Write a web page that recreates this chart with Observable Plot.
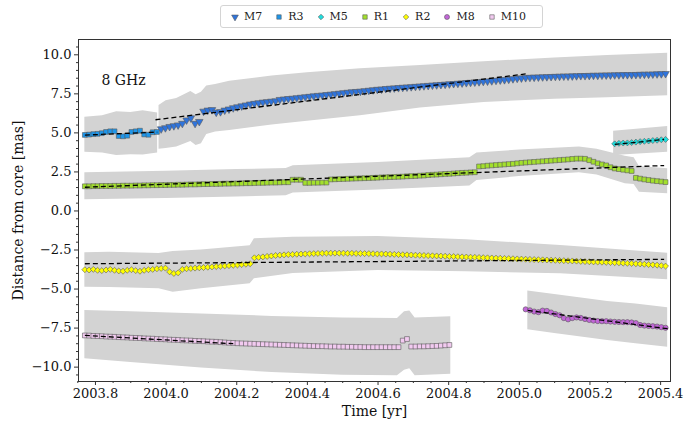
<!DOCTYPE html>
<html><head><meta charset="utf-8">
<script src="https://cdn.jsdelivr.net/npm/d3@7"></script>
<script src="https://cdn.jsdelivr.net/npm/@observablehq/plot@0.6"></script>
<style>
body{margin:0;background:#fff;font-family:"DejaVu Serif",serif;}
#wrap{position:relative;width:688px;height:421px;}
#legend{position:absolute;left:220px;top:5px;height:23px;box-sizing:border-box;border:1px solid #d4d4d4;border-radius:3px;display:flex;align-items:center;padding:0 4px 0 9px;font-family:"DejaVu Serif",serif;font-size:11px;color:#222;background:#fff;}
.item{display:flex;align-items:center;margin-right:12px;}
.item svg{margin-right:4px;}
#chart{position:absolute;left:0;top:33px;}
#chart svg, #chart text{font-family:"DejaVu Serif",serif;}
</style></head>
<body><div id="wrap"><div id="legend"></div><div id="chart"></div></div>
<script>
// observation epochs [yr]
const epochs = [2003.770,2003.782,2003.794,2003.806,2003.818,2003.830,2003.842,2003.854,2003.866,2003.878,2003.890,2003.902,2003.914,2003.926,2003.938,2003.950,2003.962,2003.974,2003.986,2003.998,
2004.010,2004.022,2004.034,2004.046,2004.058,2004.070,2004.082,2004.094,2004.106,2004.118,2004.130,2004.142,2004.154,2004.166,2004.178,2004.190,2004.202,2004.214,2004.226,2004.238,2004.250,2004.262,2004.274,2004.286,2004.298,2004.310,2004.322,2004.334,2004.346,2004.358,2004.370,2004.382,2004.394,2004.406,2004.418,2004.430,2004.442,2004.454,2004.466,2004.478,2004.490,2004.502,2004.514,2004.526,2004.538,2004.550,2004.562,2004.574,2004.586,2004.598,2004.610,2004.622,2004.634,2004.646,2004.658,2004.670,2004.682,2004.694,2004.706,2004.718,2004.730,2004.742,2004.754,2004.766,2004.778,2004.790,2004.802,2004.814,2004.826,2004.838,2004.850,2004.862,2004.874,2004.886,2004.898,2004.910,2004.922,2004.934,2004.946,2004.958,2004.970,2004.982,2004.994,
2005.006,2005.018,2005.030,2005.042,2005.054,2005.066,2005.078,2005.090,2005.102,2005.114,2005.126,2005.138,2005.150,2005.162,2005.174,2005.186,2005.198,2005.210,2005.222,2005.234,2005.246,2005.258,2005.270,2005.282,2005.294,2005.306,2005.318,2005.330,2005.342,2005.354,2005.366,2005.378,2005.390,2005.402,2005.414];

// component distances [mas]; each list starts at the given first epoch
const R3 = [4.87,4.89,4.92,4.94,4.98,5.06,5.1,5.1,4.8,4.78,4.82,5.06,5.1,5.14,4.9,4.88,5.04,5.06];
const R3_first = 2003.770;
const M7 = [5.25,5.32,5.4,5.45,5.5,5.6,5.82,5.95,5.6,5.72,6.38,6.45,6.48,6.32,6.35,6.45,6.52,6.6,6.66,6.72,
6.78,6.84,6.88,6.92,6.96,6.99,7.02,7.04,7.13,7.16,7.19,7.21,7.24,7.27,7.3,7.33,7.36,7.39,7.41,7.44,
7.47,7.5,7.53,7.56,7.59,7.62,7.64,7.66,7.69,7.72,7.75,7.78,7.8,7.83,7.85,7.87,7.89,7.91,7.93,7.95,
7.97,7.99,8.01,8.03,8.05,8.07,8.09,8.11,8.13,8.15,8.17,8.19,8.21,8.23,8.25,8.27,8.29,8.31,8.33,8.36,
8.38,8.4,8.43,8.46,8.49,8.51,8.53,8.55,8.56,8.57,8.58,8.59,8.6,8.61,8.62,8.63,8.63,8.64,8.65,8.66,
8.66,8.67,8.68,8.68,8.69,8.7,8.7,8.71,8.71,8.72,8.72,8.72,8.73,8.74,8.75,8.75,8.76,8.77,8.78,8.79];
const M7_first = 2003.986;
const M5 = [4.3,4.33,4.35,4.36,4.38,4.41,4.44,4.46,4.48,4.51,4.53,4.56,4.58];
const M5_first = 2005.270;
const R1 = [1.58,1.58,1.59,1.59,1.6,1.6,1.6,1.61,1.61,1.62,1.62,1.62,1.63,1.63,1.64,1.64,1.65,1.65,
1.66,1.66,1.67,1.67,1.68,1.68,1.69,1.7,1.7,1.71,1.72,1.72,1.73,1.73,1.74,1.75,1.75,1.76,1.76,1.77,1.78,1.78,1.79,1.8,1.8,1.81,1.82,1.82,1.83,1.84,1.84,
2.0,2.0,2.0,1.8,1.8,1.81,1.81,1.82,1.82,
2.02,2.03,2.04,2.05,2.06,2.07,2.08,2.09,2.1,2.11,2.12,2.13,2.15,2.16,2.17,2.18,2.19,2.2,2.22,2.23,2.24,2.26,2.27,2.3,2.32,2.33,2.35,2.37,2.38,2.4,2.42,2.44,2.45,2.47,2.48,
2.85,2.87,2.9,2.92,2.94,2.96,2.98,3.0,3.02,3.05,3.08,3.1,3.12,3.14,3.16,3.18,3.2,3.22,3.24,3.26,3.28,3.3,3.33,3.35,3.35,3.34,
3.25,3.15,3.05,2.98,2.92,2.8,2.72,2.68,2.64,2.6,2.56,2.12,2.07,2.02,1.98,1.94,1.91,1.88,1.85];
const R1_first = 2003.770;
const R2 = [-3.76,-3.78,-3.74,-3.8,-3.82,-3.78,-3.74,-3.8,-3.84,-3.86,-3.8,-3.76,-3.82,-3.86,-3.8,-3.76,-3.74,-3.7,-3.68,-3.66,
-3.9,-4.0,-3.96,-3.74,-3.7,-3.68,-3.66,-3.64,-3.62,-3.6,-3.58,-3.56,-3.54,-3.52,-3.5,-3.48,-3.46,-3.43,-3.41,-3.38,
-3.0,-2.97,-2.94,-2.91,-2.88,-2.85,-2.83,-2.81,-2.79,-2.78,-2.77,-2.76,-2.75,-2.74,-2.73,-2.72,-2.71,-2.7,-2.7,-2.7,
-2.7,-2.7,-2.71,-2.71,-2.72,-2.72,-2.73,-2.73,-2.74,-2.75,-2.75,-2.76,-2.77,-2.78,-2.79,-2.8,-2.81,-2.82,-2.83,-2.84,
-2.85,-2.86,-2.87,-2.88,-2.89,-2.9,-2.91,-2.92,-2.93,-2.94,-2.95,-2.96,-2.97,-2.98,-2.99,-3.0,-3.01,-3.02,-3.03,-3.04,
-3.05,-3.06,-3.07,-3.08,-3.09,-3.1,-3.11,-3.12,-3.13,-3.14,-3.15,-3.16,-3.17,-3.18,-3.19,-3.2,-3.21,-3.23,-3.24,-3.25,
-3.26,-3.27,-3.28,-3.29,-3.3,-3.31,-3.32,-3.34,-3.35,-3.36,-3.38,-3.39,-3.41,-3.43,-3.45,-3.47,-3.5,-3.53];
const R2_first = 2003.770;
const M8 = [-6.3,-6.36,-6.44,-6.48,-6.38,-6.4,-6.5,-6.6,-6.68,-6.86,-6.94,-6.86,-6.82,-6.85,-6.92,-6.98,-7.02,
-7.05,-7.06,-7.06,-7.08,-7.1,-7.11,-7.12,-7.12,-7.14,-7.18,-7.3,-7.34,-7.36,-7.38,-7.4,-7.44,-7.48];
const M8_first = 2005.018;
const M10 = [-7.97,-7.98,-8.0,-8.01,-8.02,-8.04,-8.05,-8.06,-8.08,-8.09,-8.1,-8.12,-8.13,-8.14,-8.16,-8.17,-8.18,-8.2,-8.21,-8.22,
-8.24,-8.25,-8.26,-8.28,-8.29,-8.3,-8.32,-8.33,-8.34,-8.36,-8.37,-8.38,-8.4,-8.42,-8.44,-8.45,-8.47,-8.48,-8.49,-8.5,
-8.51,-8.52,-8.53,-8.54,-8.55,-8.56,-8.57,-8.58,-8.59,-8.6,-8.61,-8.62,-8.63,-8.64,-8.65,-8.66,-8.66,-8.67,-8.68,-8.68,
-8.69,-8.69,-8.7,-8.7,-8.71,-8.71,-8.72,-8.72,-8.72,-8.72,-8.72,-8.72,-8.72,-8.72,-8.72,-8.3,-8.2,-8.68,-8.68,-8.67,
-8.67,-8.66,-8.65,-8.64,-8.62,-8.6,-8.58];
const M10_first = 2003.770;

// uncertainty envelopes (sampled edges)
const bandR3_t  = [2003.770, 2003.820, 2003.860, 2003.900, 2003.935, 2003.976];
const bandR3_lo = [3.76, 3.72, 3.55, 3.6, 3.58, 3.72];
const bandR3_hi = [6.0, 6.1, 6.35, 6.3, 6.42, 6.28];
const bandM7_t  = [2003.980, 2004.000, 2004.030, 2004.070, 2004.085, 2004.100, 2004.115, 2004.140, 2004.180, 2004.300, 2004.400, 2004.550, 2004.720, 2004.900, 2005.100, 2005.250, 2005.420];
const bandM7_lo = [3.95, 4.0, 4.1, 4.45, 4.2, 4.3, 4.9, 5.05, 5.15, 5.5, 5.75, 6.1, 6.6, 6.95, 7.15, 7.25, 7.38];
const bandM7_hi = [6.75, 7.05, 7.2, 7.65, 7.45, 7.6, 8.0, 8.1, 8.3, 8.65, 8.85, 9.1, 9.31, 9.55, 9.8, 9.95, 10.1];
const bandM5_t  = [2005.267, 2005.420];
const bandM5_lo = [3.55, 3.76];
const bandM5_hi = [5.11, 5.41];
const bandR1_t  = [2003.770, 2004.000, 2004.200, 2004.340, 2004.360, 2004.600, 2004.860, 2004.880, 2005.000, 2005.170, 2005.220, 2005.300, 2005.325, 2005.340, 2005.420];
const bandR1_lo = [0.72, 0.8, 0.9, 0.98, 1.15, 1.35, 1.6, 1.95, 2.2, 2.45, 2.3, 1.75, 1.7, 1.2, 1.1];
const bandR1_hi = [2.45, 2.55, 2.65, 2.72, 2.9, 3.1, 3.4, 3.72, 3.9, 4.1, 3.95, 3.5, 3.4, 2.85, 2.7];
const bandR2_t  = [2003.770, 2003.840, 2003.980, 2004.020, 2004.100, 2004.238, 2004.250, 2004.360, 2004.600, 2004.850, 2005.117, 2005.420];
const bandR2_lo = [-4.88, -4.9, -4.98, -5.2, -4.98, -4.66, -4.34, -4.0, -3.81, -3.9, -4.02, -4.4];
const bandR2_hi = [-2.68, -2.64, -2.72, -2.6, -2.5, -2.22, -1.78, -1.68, -1.63, -1.85, -2.21, -2.7];
const bandM8_t  = [2005.024, 2005.100, 2005.170, 2005.250, 2005.330, 2005.420];
const bandM8_lo = [-7.61, -7.85, -8.05, -8.3, -8.5, -8.72];
const bandM8_hi = [-5.13, -5.35, -5.56, -5.8, -5.95, -6.2];
const bandM10_t  = [2003.770, 2003.900, 2004.100, 2004.300, 2004.500, 2004.655, 2004.675, 2004.690, 2004.705, 2004.806];
const bandM10_lo = [-9.46, -9.7, -10.05, -10.35, -10.52, -10.55, -10.2, -10.1, -10.55, -10.45];
const bandM10_hi = [-6.37, -6.45, -6.6, -6.75, -6.85, -6.88, -6.45, -6.4, -6.85, -6.78];

// linear fits (dashed)
const fitStart    = [2003.770, 2003.970, 2005.270, 2003.770, 2003.770, 2005.024, 2003.770];
const fitEnd      = [2003.975, 2005.020, 2005.410, 2005.410, 2005.410, 2005.420, 2004.190];
const fitStartVal = [4.86, 5.84, 4.26, 1.52, -3.38, -6.37, -7.97];
const fitEndVal   = [5.05, 8.78, 4.58, 2.91, -3.10, -7.54, -8.50];

// axis ticks
const xMajor = [2003.8, 2004.0, 2004.2, 2004.4, 2004.6, 2004.8, 2005.0, 2005.2, 2005.4];
const xMinor = [2003.75, 2003.85, 2003.9, 2003.95, 2004.05, 2004.1, 2004.15, 2004.25, 2004.3, 2004.35, 2004.45, 2004.5, 2004.55, 2004.65, 2004.7, 2004.75, 2004.85, 2004.9, 2004.95, 2005.05, 2005.1, 2005.15, 2005.25, 2005.3, 2005.35];
const yMajor = [-10, -7.5, -5, -2.5, 0, 2.5, 5, 7.5, 10];
const yMinor = [-10.5, -9.5, -9, -8.5, -8, -7, -6.5, -6, -5.5, -4.5, -4, -3.5, -3, -2, -1.5, -1, -0.5, 0.5, 1, 1.5, 2, 3, 3.5, 4, 4.5, 5.5, 6, 6.5, 7, 8, 8.5, 9, 9.5, 10.5];

// custom downward triangle (matplotlib "v")
const sqrt3 = Math.sqrt(3);
const triangleDown = {draw(ctx, size) {
  const y = -Math.sqrt(size / (sqrt3 * 3));
  ctx.moveTo(0, -y * 2);
  ctx.lineTo(-sqrt3 * y, y);
  ctx.lineTo(sqrt3 * y, y);
  ctx.closePath();
}};

const styles = {
  M7:  {fill: "#2f74dc", symbol: triangleDown, r: 2.8},
  R3:  {fill: "#1e96ea", symbol: d3.symbolSquare, r: 2.7},
  M5:  {fill: "#1fdede", symbol: d3.symbolDiamond2, r: 2.7},
  R1:  {fill: "#a3e02c", symbol: d3.symbolSquare, r: 2.7},
  R2:  {fill: "#ffff00", symbol: d3.symbolDiamond2, r: 2.7},
  M8:  {fill: "#c266d8", symbol: d3.symbolCircle, r: 2.6},
  M10: {fill: "#f2caf0", symbol: d3.symbolSquare, r: 2.7}
};

function rows(vals, first) {
  const i0 = epochs.findIndex(e => Math.abs(e - first) < 1e-6);
  return vals.map((v, i) => ({t: epochs[i0 + i], v}));
}
const seriesData = {
  M10: rows(M10, M10_first), M8: rows(M8, M8_first), R2: rows(R2, R2_first),
  R1: rows(R1, R1_first), M5: rows(M5, M5_first), R3: rows(R3, R3_first), M7: rows(M7, M7_first)
};

function bandRows(id, t, lo, hi) { return t.map((d, i) => ({id, t: d, lo: lo[i], hi: hi[i]})); }
const bands = [].concat(
  bandRows("R3", bandR3_t, bandR3_lo, bandR3_hi),
  bandRows("M7", bandM7_t, bandM7_lo, bandM7_hi),
  bandRows("M5", bandM5_t, bandM5_lo, bandM5_hi),
  bandRows("R1", bandR1_t, bandR1_lo, bandR1_hi),
  bandRows("R2", bandR2_t, bandR2_lo, bandR2_hi),
  bandRows("M8", bandM8_t, bandM8_lo, bandM8_hi),
  bandRows("M10", bandM10_t, bandM10_lo, bandM10_hi)
);
const fits = fitStart.map((d, i) => ({x1: d, x2: fitEnd[i], y1: fitStartVal[i], y2: fitEndVal[i]}));

const fmt = d => d.toFixed(1).replace("-", "\u2212");
const edge = "#5a5a5a";
const FONT = "'DejaVu Serif', serif";

const dotMarks = ["M10", "M8", "R2", "R1", "M5", "R3", "M7"].map(k =>
  Plot.dot(seriesData[k], {x: "t", y: "v", symbol: styles[k].symbol, r: styles[k].r,
    fill: styles[k].fill, stroke: edge, strokeWidth: 0.6})
);

const chart = Plot.plot({
  width: 688, height: 388,
  marginLeft: 78, marginRight: 18, marginTop: 6, marginBottom: 40,
  style: {fontFamily: FONT, fontSize: "13px", color: "#111", background: "#fff"},
  x: {domain: [2003.752, 2005.428]},
  y: {domain: [-10.92, 10.98]},
  marks: [
    Plot.areaY(bands, {x: "t", y1: "lo", y2: "hi", z: "id", fill: "#d3d3d3"}),
    ...dotMarks,
    Plot.link(fits, {x1: "x1", y1: "y1", x2: "x2", y2: "y2", stroke: "#000", strokeWidth: 1.3, strokeDasharray: "5,3"}),
    Plot.axisX({ticks: xMinor, tickSize: 2, tickFormat: () => "", stroke: "#333"}),
    Plot.axisX({ticks: xMajor, tickSize: 4, tickPadding: 3, tickFormat: d => d.toFixed(1), fontSize: 13, fontFamily: FONT, stroke: "#333", label: null}),
    Plot.axisY({ticks: yMinor, tickSize: 2, tickFormat: () => "", stroke: "#333"}),
    Plot.axisY({ticks: yMajor, tickSize: 4, tickPadding: 3, tickFormat: fmt, fontSize: 13, fontFamily: FONT, stroke: "#333", label: null}),
    Plot.frame({stroke: "#333", strokeWidth: 1}),
    Plot.text(["8 GHz"], {text: d => d, frameAnchor: "top-left", dx: 23, dy: 41, fontSize: 14, fontFamily: FONT, textAnchor: "start", lineAnchor: "middle", fill: "#111"}),
    Plot.text(["Time [yr]"], {text: d => d, frameAnchor: "bottom", dy: 30, fontSize: 14, fontFamily: FONT, textAnchor: "middle", lineAnchor: "middle", fill: "#111"}),
    Plot.text(["Distance from core [mas]"], {text: d => d, frameAnchor: "left", dx: -60, rotate: -90, fontSize: 14, fontFamily: FONT, textAnchor: "middle", lineAnchor: "middle", fill: "#111"})
  ]
});
document.getElementById("chart").appendChild(chart);

// legend
const legendOrder = ["M7", "R3", "M5", "R1", "R2", "M8", "M10"];
const legend = d3.select("#legend");
legendOrder.forEach(k => {
  const it = legend.append("div").attr("class", "item");
  const s = it.append("svg").attr("width", 10).attr("height", 10);
  const size = Math.PI * 2.5 * 2.5;
  s.append("path").attr("transform", "translate(5,5)")
    .attr("d", d3.symbol(styles[k].symbol, size)())
    .attr("fill", styles[k].fill).attr("stroke", edge).attr("stroke-width", 0.6);
  it.append("span").text(k);
});
</script>
</body></html>
